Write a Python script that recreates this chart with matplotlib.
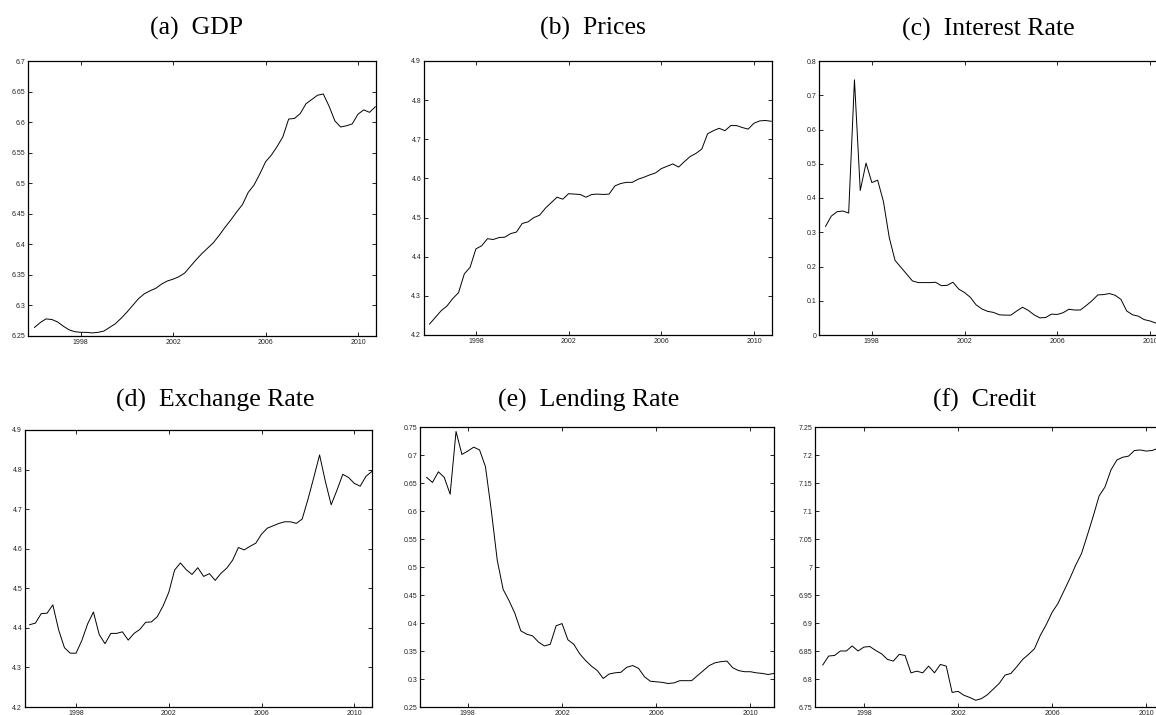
import numpy as np
import matplotlib
matplotlib.use("Agg")
import matplotlib.pyplot as plt
from matplotlib.ticker import FuncFormatter

# quarterly series
gdp = [6.264, 6.272, 6.278, 6.277, 6.273, 6.266, 6.260, 6.257, 6.256, 6.256,
       6.255, 6.256, 6.258, 6.264, 6.270, 6.279, 6.289, 6.300, 6.311, 6.319,
       6.324, 6.328, 6.335, 6.340, 6.343, 6.347, 6.353, 6.364, 6.375, 6.385,
       6.394, 6.403, 6.415, 6.428, 6.440, 6.453, 6.465, 6.485, 6.497, 6.515,
       6.535, 6.546, 6.560, 6.576, 6.605, 6.606, 6.614, 6.630, 6.637, 6.644,
       6.646, 6.626, 6.602, 6.592, 6.594, 6.597, 6.613, 6.620, 6.616, 6.625]

prices = [4.228, 4.245, 4.262, 4.274, 4.293, 4.308, 4.356, 4.373, 4.420, 4.428,
          4.446, 4.444, 4.449, 4.450, 4.459, 4.463, 4.485, 4.489, 4.500, 4.506,
          4.524, 4.538, 4.552, 4.547, 4.561, 4.560, 4.559, 4.552, 4.559, 4.560,
          4.559, 4.560, 4.581, 4.587, 4.590, 4.590, 4.598, 4.603, 4.609, 4.614,
          4.625, 4.631, 4.637, 4.629, 4.643, 4.656, 4.664, 4.675, 4.714, 4.722,
          4.728, 4.722, 4.735, 4.735, 4.730, 4.726, 4.741, 4.747, 4.748, 4.746]

interest = [0.317, 0.347, 0.360, 0.362, 0.356, 0.745, 0.422, 0.502, 0.445, 0.452,
            0.390, 0.285, 0.218, 0.198, 0.178, 0.158, 0.153, 0.153, 0.153, 0.154,
            0.144, 0.145, 0.154, 0.134, 0.124, 0.110, 0.088, 0.076, 0.069, 0.066,
            0.059, 0.058, 0.058, 0.070, 0.081, 0.072, 0.059, 0.050, 0.051, 0.061,
            0.060, 0.065, 0.075, 0.073, 0.073, 0.086, 0.100, 0.117, 0.118, 0.121,
            0.116, 0.104, 0.070, 0.059, 0.055, 0.045, 0.041, 0.035, 0.032, 0.030]

exchange = [4.408, 4.412, 4.436, 4.437, 4.458, 4.395, 4.350, 4.336, 4.336, 4.368,
            4.410, 4.440, 4.383, 4.360, 4.386, 4.386, 4.390, 4.369, 4.386, 4.396,
            4.414, 4.415, 4.428, 4.455, 4.490, 4.546, 4.564, 4.547, 4.535, 4.552,
            4.530, 4.537, 4.520, 4.538, 4.551, 4.571, 4.603, 4.597, 4.606, 4.614,
            4.637, 4.652, 4.658, 4.664, 4.668, 4.668, 4.664, 4.675, 4.725, 4.780,
            4.837, 4.770, 4.711, 4.748, 4.788, 4.780, 4.765, 4.758, 4.783, 4.795]

lending = [0.660, 0.651, 0.670, 0.660, 0.630, 0.742, 0.701, 0.707, 0.714, 0.709,
           0.679, 0.600, 0.512, 0.460, 0.440, 0.417, 0.386, 0.380, 0.377, 0.366,
           0.359, 0.362, 0.395, 0.399, 0.370, 0.362, 0.345, 0.333, 0.323, 0.315,
           0.301, 0.309, 0.311, 0.312, 0.321, 0.324, 0.319, 0.304, 0.296, 0.295,
           0.294, 0.292, 0.293, 0.297, 0.297, 0.297, 0.306, 0.315, 0.324, 0.329,
           0.331, 0.332, 0.320, 0.315, 0.313, 0.313, 0.311, 0.310, 0.308, 0.310]

credit = [6.825, 6.841, 6.842, 6.850, 6.850, 6.859, 6.850, 6.857, 6.858, 6.851,
          6.845, 6.835, 6.832, 6.844, 6.842, 6.811, 6.814, 6.811, 6.823, 6.811,
          6.826, 6.823, 6.776, 6.778, 6.771, 6.767, 6.762, 6.765, 6.772, 6.782,
          6.792, 6.807, 6.810, 6.822, 6.835, 6.844, 6.854, 6.878, 6.897, 6.919,
          6.935, 6.957, 6.979, 7.003, 7.024, 7.057, 7.091, 7.127, 7.143, 7.173,
          7.191, 7.196, 7.198, 7.208, 7.209, 7.207, 7.208, 7.212, 7.212, 7.213]

x_top = 1996.0 + 0.25 * np.arange(60)
x_bot = 1996.25 + 0.25 * np.arange(60)

year_ticks = [1998, 2002, 2006, 2010]

panels = [
    # title, x, y, yticks, xlim, (left, right, top, bottom) in px, title pos
    ("(a)  GDP", x_top, gdp,
     [6.25, 6.3, 6.35, 6.4, 6.45, 6.5, 6.55, 6.6, 6.65, 6.7],
     (1995.72, 2010.78), (28, 376, 61, 336), (197, 35)),
    ("(b)  Prices", x_top, prices,
     [4.2, 4.3, 4.4, 4.5, 4.6, 4.7, 4.8, 4.9],
     (1995.76, 2010.78), (424, 772, 61, 335), (593, 35)),
    ("(c)  Interest Rate", x_top, interest,
     [0, 0.1, 0.2, 0.3, 0.4, 0.5, 0.6, 0.7, 0.8],
     (1995.72, 2010.78), (819, 1168, 61, 335), (988, 36)),
    ("(d)  Exchange Rate", x_top, exchange,
     [4.2, 4.3, 4.4, 4.5, 4.6, 4.7, 4.8, 4.9],
     (1995.8, 2010.76), (25, 372, 430, 707), (215, 407)),
    ("(e)  Lending Rate", x_bot, lending,
     [0.25, 0.3, 0.35, 0.4, 0.45, 0.5, 0.55, 0.6, 0.65, 0.7, 0.75],
     (1995.97, 2011.0), (420, 774, 427, 707), (589, 407)),
    ("(f)  Credit", x_bot, credit,
     [6.75, 6.8, 6.85, 6.9, 6.95, 7.0, 7.05, 7.1, 7.15, 7.2, 7.25],
     (1995.92, 2010.97), (815, 1169, 427, 707), (985, 407)),
]

W, H = 1156, 715
fig = plt.figure(figsize=(W / 100, H / 100), dpi=100)
fig.patch.set_facecolor("white")

fmt = FuncFormatter(lambda v, p: "%g" % round(v, 4))

for title, xs, ys, yt, xl, (l, r, t, b), (tx, ty) in panels:
    ax = fig.add_axes([l / W, 1 - b / H, (r - l) / W, (b - t) / H])
    ax.plot(xs, ys, color="black", lw=0.7)
    ax.set_xlim(*xl)
    ax.set_ylim(yt[0], yt[-1])
    ax.set_xticks(year_ticks)
    ax.set_yticks(yt)
    ax.yaxis.set_major_formatter(fmt)
    ax.tick_params(direction="in", length=3, width=0.6, top=True, right=True,
                   labelsize=5, pad=2, labelcolor="#222222")
    for lab in ax.get_xticklabels() + ax.get_yticklabels():
        lab.set_family("Liberation Sans")
    for s in ax.spines.values():
        s.set_linewidth(0.9)
    fig.text(tx / W, 1 - ty / H, title, ha="center", va="baseline",
             family="Liberation Serif", fontsize=18.5)

fig.savefig("out.png", dpi=100)
